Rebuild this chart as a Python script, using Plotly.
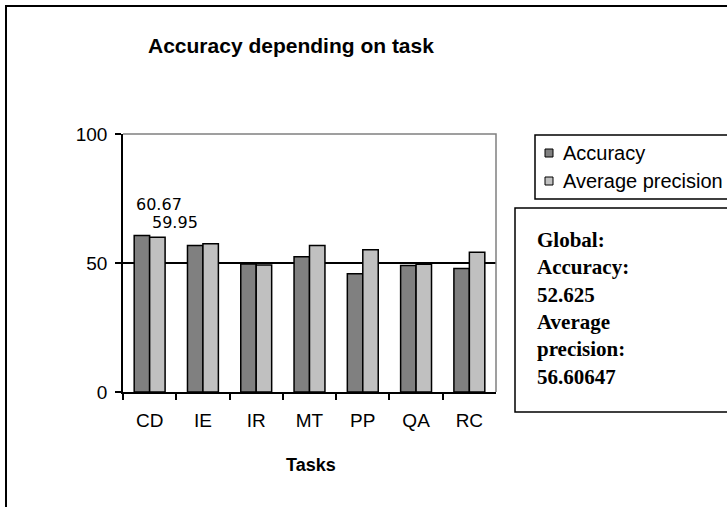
import plotly.graph_objects as go

# ---- data ----
tasks = ["CD", "IE", "IR", "MT", "PP", "QA", "RC"]
accuracy = [60.67, 56.8, 49.6, 52.4, 45.8, 49.0, 47.9]
avg_precision = [59.95, 57.5, 49.2, 56.8, 55.1, 49.5, 54.2]
series_names = ["Accuracy", "Average precision"]
series_colors = ["#808080", "#C0C0C0"]
y_ticks = [0, 50, 100]
title_text = "Accuracy depending on task"
x_title = "Tasks"
global_lines = ["Global:", "Accuracy:", "52.625", "Average", "precision:", "56.60647"]

W, H = 727, 507
def px(x):
    return x / W
def py(y):
    return 1 - y / H

fig = go.Figure()
for name, vals, col in zip(series_names, [accuracy, avg_precision], series_colors):
    fig.add_trace(go.Bar(
        x=tasks, y=vals, name=name,
        marker=dict(color=col, line=dict(color="black", width=1.5)),
        showlegend=False, hoverinfo="skip",
    ))

shapes = []
# outer chart frame (left + top)
shapes.append(dict(type="path", xref="paper", yref="paper",
                   path=f"M {px(6)} {py(520)} L {px(6)} {py(6)} L {px(760)} {py(6)}",
                   line=dict(color="black", width=2)))
# plot area gray border (top + right)
shapes.append(dict(type="path", xref="x domain", yref="y domain",
                   path="M 0 1 L 1 1 L 1 0", line=dict(color="#808080", width=1.5),
                   layer="above"))
# legend box
shapes.append(dict(type="rect", xref="paper", yref="paper",
                   x0=px(535), x1=px(760), y0=py(135), y1=py(199),
                   line=dict(color="black", width=1.5), fillcolor="white"))
# global box
shapes.append(dict(type="rect", xref="paper", yref="paper",
                   x0=px(515), x1=px(760), y0=py(208), y1=py(412),
                   line=dict(color="black", width=1.5), fillcolor="white"))

annotations = []
# legend entries
leg_y = [153, 181]
for name, col, yy in zip(series_names, series_colors, leg_y):
    shapes.append(dict(type="rect", xref="paper", yref="paper",
                       x0=px(545), x1=px(553), y0=py(yy - 4), y1=py(yy + 4),
                       line=dict(color="black", width=1), fillcolor=col))
    annotations.append(dict(xref="paper", yref="paper", x=px(561), y=py(yy),
                            xanchor="left", yanchor="middle", text=name, showarrow=False,
                            font=dict(family="Liberation Sans, Arial", size=20, color="black")))

# global text
annotations.append(dict(xref="paper", yref="paper", x=px(535), y=py(226),
                        xanchor="left", yanchor="top", align="left",
                        text="<br>".join(f"<b>{t}</b>" for t in global_lines), showarrow=False,
                        font=dict(family="Liberation Serif, Times New Roman", size=21, color="black")))

# data labels for first category
annotations.append(dict(xref="x", yref="y", x=tasks[0], y=accuracy[0], xanchor="left",
                        yanchor="middle", xshift=-16, yshift=31, text=f"{accuracy[0]:.2f}",
                        showarrow=False, font=dict(family="DejaVu Sans", size=16, color="black")))
annotations.append(dict(xref="x", yref="y", x=tasks[0], y=avg_precision[0], xanchor="left",
                        yanchor="middle", xshift=0, yshift=15, text=f"{avg_precision[0]:.2f}",
                        showarrow=False, font=dict(family="DejaVu Sans", size=16, color="black")))

# title
annotations.append(dict(xref="paper", yref="paper", x=px(291), y=py(45), xanchor="center",
                        yanchor="middle", text=f"<b>{title_text}</b>", showarrow=False,
                        font=dict(family="Liberation Sans, Arial", size=21, color="black")))
# x axis title
annotations.append(dict(xref="paper", yref="paper", x=px(311), y=py(465), xanchor="center",
                        yanchor="middle", text=f"<b>{x_title}</b>", showarrow=False,
                        font=dict(family="Liberation Sans, Arial", size=18, color="black")))

fig.update_layout(
    width=W, height=H,
    margin=dict(l=0, r=0, t=0, b=0, autoexpand=False),
    paper_bgcolor="white", plot_bgcolor="white",
    barmode="group", bargap=0.42, bargroupgap=0,
    shapes=shapes, annotations=annotations,
    showlegend=False, hovermode=False,
    xaxis=dict(domain=[px(123), px(496)], showline=True, linecolor="black", linewidth=1.5,
               ticks="outside", tickson="boundaries", ticklen=6, tickcolor="black", tickwidth=1.5,
               ticklabelstandoff=10,
               tickfont=dict(family="Liberation Sans, Arial", size=19, color="black"),
               showgrid=False, fixedrange=True),
    yaxis=dict(domain=[py(392), py(134)], range=[0, 100], tickvals=y_ticks,
               showline=True, linecolor="black", linewidth=1.5,
               ticks="outside", ticklen=6, tickcolor="black", tickwidth=1.5,
               ticklabelstandoff=4,
               tickfont=dict(family="Liberation Sans, Arial", size=19, color="black"),
               showgrid=True, gridcolor="black", gridwidth=1.5,
               zeroline=False, fixedrange=True),
)

fig.write_html("out.html", config={"displayModeBar": False},
               post_script="document.body.style.margin='0px';")
